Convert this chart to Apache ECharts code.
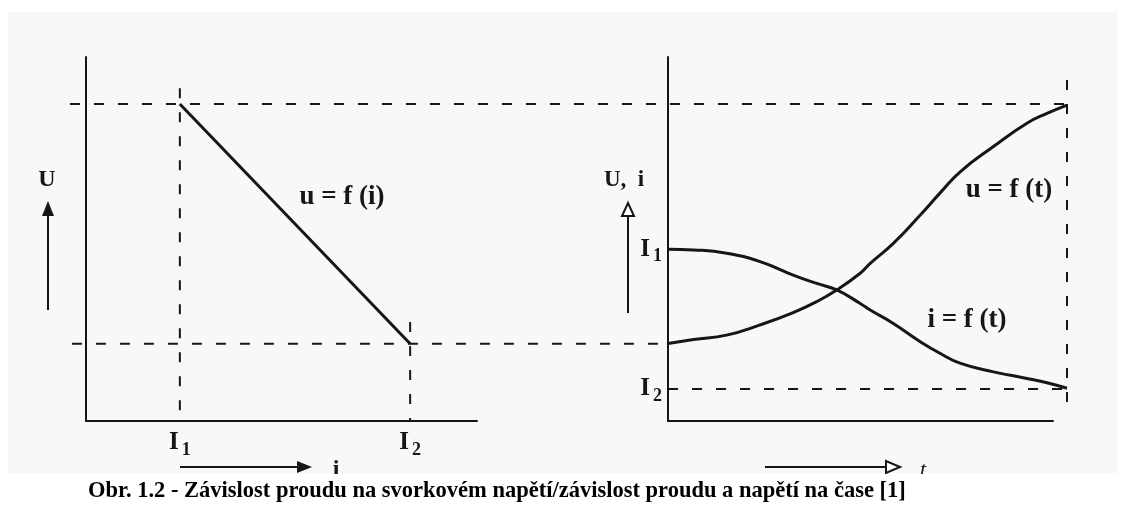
<!DOCTYPE html>
<html>
<head>
<meta charset="utf-8">
<script src="https://cdn.jsdelivr.net/npm/echarts@6/dist/echarts.min.js"></script>
<style>
  html, body { margin: 0; padding: 0; background: #fff; }
  #scan { position: absolute; left: 8px; top: 12px; width: 1110px; height: 461px; background: #f8f8f8; }
  #chart { position: absolute; left: 0; top: 0; width: 1126px; height: 507px; }
</style>
</head>
<body>
<div id="scan"></div>
<div id="chart"></div>
<script>
// left panel: u = f(i), a straight fall from (I1, U1) to (I2, U2)
const currentI = [24, 82.9];        // I1, I2 on the i axis
const voltageU = [87.1, 21.2];      // U1, U2 on the U axis

// right panel: u = f(t) and i = f(t)
const tValues = [0, 6.6, 15.2, 23.9, 32.5, 38.6, 43.8, 49.9, 52.5, 58.5, 65.5, 70.6, 75.8, 84.5, 93.2, 98.4, 103.6];
const uOfT    = [21.3, 22.4, 23.6, 26.4, 29.8, 32.8, 36.0, 40.6, 43.3, 48.8, 56.6, 62.6, 68.4, 75.4, 81.8, 84.5, 86.8];
const iOfT    = [47.2, 47.0, 46.1, 43.8, 40.1, 37.8, 36.0, 32.3, 30.5, 26.8, 21.8, 18.6, 15.9, 13.5, 11.7, 10.5, 9.0];

// levels marked on the right U,i axis
const currentLevels = [47.2, 8.8];
const tEnd = 103.6;
const tGuideStart = -155.3;   // the t scale carried back over the left panel

const ink = '#161616';
const serif = '"Liberation Serif", "DejaVu Serif", serif';
const dash = [10, 14];

const pair = (xs, ys) => xs.map((x, k) => [x, ys[k]]);
const subName = (k) => `{m|I}{s|${k + 1}}`;
const subRich = {
  m: { fontFamily: serif, fontSize: 25, fontWeight: 'bold', color: ink },
  s: { fontFamily: serif, fontSize: 18, fontWeight: 'bold', color: ink, padding: [14, 0, 0, 3] },
};

const baseAxis = {
  type: 'value', min: 0, max: 100,
  axisLine: { show: true, onZero: false, lineStyle: { color: ink, width: 2 } },
  axisTick: { show: false },
  splitLine: { show: false },
  axisLabel: { show: false },
};
const hiddenAxis = (gridIndex, min, max) => ({
  type: 'value', gridIndex, min, max, show: false,
  axisLine: { show: false }, axisTick: { show: false }, splitLine: { show: false }, axisLabel: { show: false },
});

const solid = (xi, data, extra) => Object.assign({
  type: 'line', xAxisIndex: xi, yAxisIndex: xi, data,
  symbol: 'none', silent: true, animation: false, clip: false,
  lineStyle: { color: ink, width: 3 },
}, extra);
const dashed = (xi, data) => solid(xi, data, {
  lineStyle: { color: ink, width: 2, type: dash },
});

const chart = echarts.init(document.getElementById('chart'));

chart.setOption({
  backgroundColor: 'transparent',
  animation: false,
  title: {
    text: 'Obr. 1.2 - Závislost proudu na svorkovém napětí/závislost proudu a napětí na čase [1]',
    left: 83, top: 475, z: 30,
    textStyle: { fontFamily: serif, fontSize: 22.5, fontWeight: 'bold', color: '#000' },
  },
  grid: [
    { left: 86, top: 57, width: 391, height: 364 },
    { left: 668, top: 57, width: 385, height: 364 },
    // t scale extended over the whole figure, same U scale as both panels
    { left: 70, top: 57, width: 997, height: 364 },
  ],
  xAxis: [
    Object.assign({}, baseAxis, { gridIndex: 0,
      axisLabel: { show: true, customValues: currentI, margin: 6,
        formatter: (v) => subName(currentI.indexOf(v)), rich: subRich } }),
    Object.assign({}, baseAxis, { gridIndex: 1 }),
    hiddenAxis(2, tGuideStart, tEnd),
  ],
  yAxis: [
    Object.assign({}, baseAxis, { gridIndex: 0 }),
    Object.assign({}, baseAxis, { gridIndex: 1,
      axisLabel: { show: true, customValues: currentLevels, margin: 6,
        formatter: (v) => subName(currentLevels.indexOf(v)), rich: subRich } }),
    hiddenAxis(2, 0, 100),
  ],
  series: [
    // guides shared by both panels
    dashed(2, [[tGuideStart, voltageU[0]], [tEnd, voltageU[0]]]),
    dashed(2, [[tGuideStart + 0.5, voltageU[1]], [0, voltageU[1]]]),
    // left panel
    dashed(0, [[currentI[0], 91.4], [currentI[0], 0]]),
    dashed(0, [[currentI[1], 27.2], [currentI[1], 0]]),
    solid(0, pair(currentI, voltageU)),
    // right panel (curves run a little past the end of the t axis)
    dashed(2, [[tEnd, 93.7], [tEnd, 1.6]]),
    dashed(2, [[0, currentLevels[1]], [tEnd, currentLevels[1]]]),
    solid(2, pair(tValues, uOfT), { smooth: 0.5 }),
    solid(2, pair(tValues, iOfT), { smooth: 0.5 }),
  ],
  graphic: [
    { type: 'text', x: 47, y: 180, style: { text: 'U', fontFamily: serif, fontSize: 24, fontWeight: 'bold', fill: ink, align: 'center', verticalAlign: 'middle' } },
    { type: 'text', x: 624, y: 180, style: { text: 'U,  i', fontFamily: serif, fontSize: 23, fontWeight: 'bold', fill: ink, align: 'center', verticalAlign: 'middle' } },
    { type: 'text', x: 342, y: 197, style: { text: 'u = f (i)', fontFamily: serif, fontSize: 27, fontWeight: 'bold', fill: ink, align: 'center', verticalAlign: 'middle' } },
    { type: 'text', x: 1009, y: 190, style: { text: 'u = f (t)', fontFamily: serif, fontSize: 27, fontWeight: 'bold', fill: ink, align: 'center', verticalAlign: 'middle' } },
    { type: 'text', x: 967, y: 320, style: { text: 'i = f (t)', fontFamily: serif, fontSize: 27, fontWeight: 'bold', fill: ink, align: 'center', verticalAlign: 'middle' } },
    { type: 'text', x: 336, y: 470, z: 5, style: { text: 'i', fontFamily: serif, fontSize: 24, fontWeight: 'bold', fill: ink, align: 'center', verticalAlign: 'middle' } },
    { type: 'text', x: 923, y: 470, z: 5, style: { text: 't', fontFamily: serif, fontSize: 22, fontStyle: 'italic', fill: ink, align: 'center', verticalAlign: 'middle' } },
    // direction arrows
    { type: 'line', shape: { x1: 48, y1: 310, x2: 48, y2: 214 }, style: { stroke: ink, lineWidth: 2 } },
    { type: 'polygon', shape: { points: [[48, 201], [42, 216], [54, 216]] }, style: { fill: ink } },
    { type: 'line', shape: { x1: 628, y1: 313, x2: 628, y2: 216 }, style: { stroke: ink, lineWidth: 2 } },
    { type: 'polygon', shape: { points: [[628, 203], [622, 216], [634, 216]] }, style: { fill: '#fff', stroke: ink, lineWidth: 2 } },
    { type: 'line', shape: { x1: 180, y1: 467, x2: 299, y2: 467 }, style: { stroke: ink, lineWidth: 2 } },
    { type: 'polygon', shape: { points: [[312, 467], [297, 461], [297, 473]] }, style: { fill: ink } },
    { type: 'line', shape: { x1: 765, y1: 467, x2: 887, y2: 467 }, style: { stroke: ink, lineWidth: 2 } },
    { type: 'polygon', shape: { points: [[900, 467], [886, 461], [886, 473]] }, style: { fill: '#fff', stroke: ink, lineWidth: 2 } },
    // caption strip covers the foot of the scan
    { type: 'rect', z: 10, shape: { x: 0, y: 474, width: 1126, height: 33 }, style: { fill: '#fff' } },
  ],
});
</script>
</body>
</html>
